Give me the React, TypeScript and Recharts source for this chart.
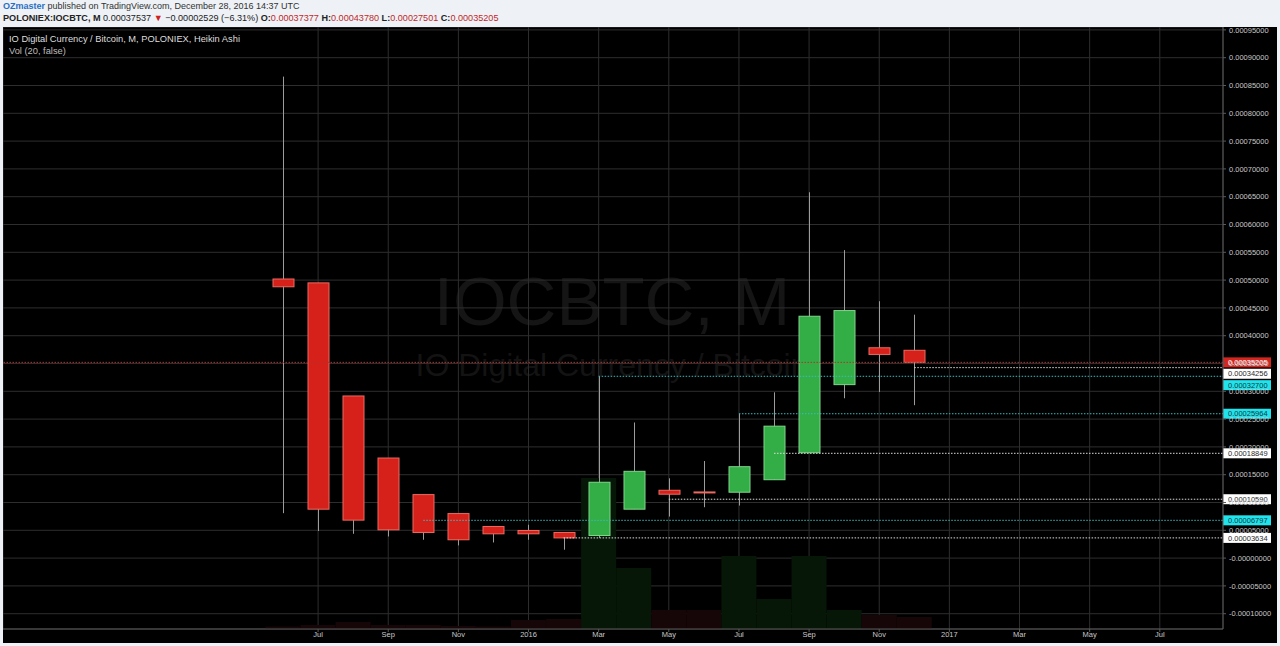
import React from 'react';
import { ComposedChart, Bar, XAxis, YAxis, CartesianGrid, ReferenceLine } from 'recharts';

// ---------- data ----------
const axisMonths = [
  '2014-11', '2014-12', '2015-01', '2015-02', '2015-03', '2015-04', '2015-05', '2015-06',
  '2015-07', '2015-08', '2015-09', '2015-10', '2015-11', '2015-12', '2016-01', '2016-02',
  '2016-03', '2016-04', '2016-05', '2016-06', '2016-07', '2016-08', '2016-09', '2016-10',
  '2016-11', '2016-12', '2017-01', '2017-02', '2017-03', '2017-04', '2017-05', '2017-06',
  '2017-07', '2017-08',
];
const tickMonths = [
  '2015-07', '2015-09', '2015-11', '2016-01', '2016-03', '2016-05', '2016-07',
  '2016-09', '2016-11', '2017-01', '2017-03', '2017-05', '2017-07',
];
const monthNames = ['Jan', 'Feb', 'Mar', 'Apr', 'May', 'Jun', 'Jul', 'Aug', 'Sep', 'Oct', 'Nov', 'Dec'];

const candleMonths = [
  '2015-06', '2015-07', '2015-08', '2015-09', '2015-10', '2015-11', '2015-12',
  '2016-01', '2016-02', '2016-03', '2016-04', '2016-05', '2016-06', '2016-07',
  '2016-08', '2016-09', '2016-10', '2016-11', '2016-12',
];
const opens = [
  0.000502, 0.000495, 0.0002916, 0.00018, 0.0001142, 0.0000801, 0.0000568,
  0.0000497, 0.0000461, 0.0000407, 0.000088, 0.000122, 0.000119, 0.0001185,
  0.000141, 0.0001895, 0.000312, 0.0003783, 0.00037377,
];
const highs = [
  0.000866, 0.000495, 0.0002916, 0.00018, 0.0001142, 0.0000801, 0.0000575,
  0.00006, 0.0000461, 0.000327, 0.0002439, 0.0001435, 0.0001746, 0.00025964,
  0.0002982, 0.000658, 0.000554, 0.000462, 0.0004378,
];
const lows = [
  0.0000808, 0.0000487, 0.0000437, 0.0000389, 0.000033, 0.0000228, 0.0000281,
  0.000033, 0.0000151, 0.0000363, 0.000088, 0.0000747, 0.0000915, 0.0000945,
  0.000141, 0.0001895, 0.0002875, 0.0002988, 0.00027501,
];
const closes = [
  0.000488, 0.000088, 0.0000683, 0.0000509, 0.0000461, 0.000033, 0.0000437,
  0.0000437, 0.00003634, 0.0001364, 0.0001561, 0.0001149, 0.0001182, 0.0001644,
  0.0002373, 0.000435, 0.0004452, 0.0003663, 0.00035205,
];
const volumes = [
  25, 40, 70, 40, 40, 30, 25,
  90, 100, 1510, 610, 190, 190, 730,
  300, 730, 190, 140, 120,
];

const priceTicks = [
  -0.0001, -0.00005, 0, 0.00005, 0.0001, 0.00015, 0.0002, 0.00025, 0.0003, 0.00035,
  0.0004, 0.00045, 0.0005, 0.00055, 0.0006, 0.00065, 0.0007, 0.00075, 0.0008,
  0.00085, 0.0009, 0.00095,
];
const lastPrice = 0.00035205;
const levelValues = [0.00034256, 0.000327, 0.00025964, 0.00018849, 0.0001059, 0.00006797, 0.00003634];
const levelStarts = ['2016-12', '2016-03', '2016-07', '2016-08', '2016-05', '2015-10', '2016-02'];
const levelKinds = ['white', 'cyan', 'cyan', 'white', 'white', 'cyan', 'white'];

// ---------- layout / style ----------
const CHART_W = 1274;
const CHART_H = 616;
const Y_AXIS_W = 54;
const X_AXIS_H = 14;
const PLOT_W = CHART_W - Y_AXIS_W;
const PLOT_H = CHART_H - X_AXIS_H;
const Y_MAX = 0.00095522;
const Y_MIN = -0.00012751;
const VOL_MAX = 6020;

const RED = '#d6211b';
const RED_EDGE = '#ec6a60';
const GREEN = '#33ad46';
const GREEN_EDGE = '#80d68b';
const WICK = '#9c9c9c';
const VOL_RED = '#170607';
const VOL_GREEN = '#061707';
const GRID = '#2e2e2e';
const AXIS = '#5a5a5a';
const LABEL = '#c9c9c9';
const CYAN_LINE = '#3bbcbf';
const CYAN_BADGE = '#21e3ec';
const WHITE_LINE = '#dcdcdc';
const RED_LINE = '#b8302a';
const FONT = '"Liberation Sans", Arial, sans-serif';

const data = axisMonths.map((m) => {
  const i = candleMonths.indexOf(m);
  if (i < 0) return { m };
  return {
    m,
    range: [lows[i], highs[i]],
    o: opens[i],
    h: highs[i],
    l: lows[i],
    c: closes[i],
    vol: volumes[i],
    up: closes[i] >= opens[i],
  };
});

const monthLabel = (m: string) => {
  const [y, mo] = m.split('-');
  return mo === '01' ? y : monthNames[Number(mo) - 1];
};

const priceLabel = (v: number) => (Math.abs(v) < 1e-12 ? '-0.00000000' : v.toFixed(8));

const CandleShape = (props: any) => {
  const { x, y, width, height, payload } = props;
  if (!payload || payload.o == null || !(height > 0)) return null;
  const { o, c, h, l } = payload;
  const k = height / (h - l);
  const py = (v: number) => y + (h - v) * k;
  const cx = Math.round(x + width / 2) + 0.5;
  const up = c >= o;
  const top = py(Math.max(o, c));
  const bot = py(Math.min(o, c));
  const bh = Math.max(1, bot - top);
  return (
    <g>
      <line x1={cx} x2={cx} y1={y} y2={y + height} stroke={WICK} strokeWidth={1} />
      <rect
        x={cx - 10.5}
        y={top}
        width={21}
        height={bh}
        fill={up ? GREEN : RED}
        stroke={up ? GREEN_EDGE : RED_EDGE}
        strokeWidth={1}
      />
    </g>
  );
};

const VolumeShape = (props: any) => {
  const { x, y, width, height, payload } = props;
  if (!payload || payload.vol == null || !(height > 0)) return null;
  return <rect x={x} y={y} width={width} height={height} fill={payload.up ? VOL_GREEN : VOL_RED} />;
};

// badge placement (push overlapping badges down)
const BADGE_H = 11.4;
const pix = (v: number) => ((Y_MAX - v) / (Y_MAX - Y_MIN)) * PLOT_H;
const badgeValues = [lastPrice, ...levelValues];
const badgeKinds = ['red', ...levelKinds];
const badgeOffsets: number[] = (() => {
  const order = badgeValues.map((v, i) => i).sort((a, b) => badgeValues[b] - badgeValues[a]);
  const res: number[] = new Array(badgeValues.length).fill(0);
  let prev = -Infinity;
  order.forEach((i) => {
    const p = pix(badgeValues[i]);
    const placed = Math.max(p, prev + BADGE_H);
    res[i] = placed - p;
    prev = placed;
  });
  return res;
})();

const makeBadge = (idx: number) => (props: any) => {
  const vb = props.viewBox || {};
  const kind = badgeKinds[idx];
  const bg = kind === 'red' ? '#d4251e' : kind === 'cyan' ? CYAN_BADGE : '#ffffff';
  const fg = kind === 'red' ? '#ffffff' : kind === 'cyan' ? '#10393c' : '#2a2a2a';
  const cy = vb.y + badgeOffsets[idx];
  const x0 = PLOT_W;
  return (
    <g>
      <rect x={x0} y={cy - 5} width={48} height={10} fill={bg} />
      <text x={x0 + 5} y={cy} dy="0.35em" fontSize={7.5} fontFamily={FONT} fill={fg}>
        {priceLabel(badgeValues[idx])}
      </text>
    </g>
  );
};

const levelShape = (color: string) => (props: any) => (
  <line
    x1={props.x1}
    y1={props.y1}
    x2={PLOT_W}
    y2={props.y2}
    stroke={color}
    strokeWidth={1}
    strokeDasharray="1.5 1.5"
  />
);

export default function App() {
  const lastMonth = axisMonths[axisMonths.length - 1];
  return (
    <div
      style={{
        position: 'absolute',
        left: 0,
        top: 0,
        width: 1280,
        height: 646,
        background: '#eef1f5',
        overflow: 'hidden',
        fontFamily: FONT,
      }}
    >
      <div style={{ position: 'absolute', left: 3, top: 0, fontSize: 9, lineHeight: '12px', color: '#333', whiteSpace: 'nowrap' }}>
        <span style={{ color: '#2a6fc4', fontWeight: 'bold' }}>OZmaster</span> published on TradingView.com, December 28, 2016 14:37 UTC
      </div>
      <div style={{ position: 'absolute', left: 3, top: 11.5, fontSize: 9.1, lineHeight: '12px', color: '#222', whiteSpace: 'nowrap' }}>
        <span style={{ fontWeight: 'bold' }}>POLONIEX:IOCBTC, M</span> 0.00037537{' '}
        <span style={{ color: '#d0211b' }}>▼</span> −0.00002529 (−6.31%){' '}
        <b>O:</b><span style={{ color: '#c0282a' }}>0.00037377</span>{' '}
        <b>H:</b><span style={{ color: '#c0282a' }}>0.00043780</span>{' '}
        <b>L:</b><span style={{ color: '#c0282a' }}>0.00027501</span>{' '}
        <b>C:</b><span style={{ color: '#c0282a' }}>0.00035205</span>
      </div>

      <div style={{ position: 'absolute', left: 3, top: 27, width: CHART_W, height: CHART_H, background: '#000' }}>
        <div
          style={{
            position: 'absolute', left: 0, top: 235, width: 1218, textAlign: 'center',
            fontSize: 69, lineHeight: '80px', color: '#151515', whiteSpace: 'nowrap',
          }}
        >
          IOCBTC, M
        </div>
        <div
          style={{
            position: 'absolute', left: 0, top: 318, width: 1218, textAlign: 'center',
            fontSize: 32, lineHeight: '40px', color: '#131313', whiteSpace: 'nowrap',
          }}
        >
          IO Digital Currency / Bitcoin
        </div>
        <div style={{ position: 'absolute', left: 0, top: 0 }}>
          <ComposedChart
            width={CHART_W}
            height={CHART_H}
            data={data}
            margin={{ top: 0, right: 0, bottom: 0, left: 0 }}
            barCategoryGap={0}
            barGap={0}
          >
            <CartesianGrid xAxisId="x" yAxisId="p" stroke={GRID} strokeWidth={1} />
            <XAxis
              xAxisId="x"
              dataKey="m"
              ticks={tickMonths}
              interval={0}
              tickFormatter={monthLabel}
              padding={{ left: 17, right: 10.6 }}
              height={X_AXIS_H}
              tickSize={3}
              tickMargin={0}
              stroke={AXIS}
              tick={{ fill: LABEL, fontSize: 7.5, fontFamily: FONT }}
            />
            <XAxis xAxisId="xv" dataKey="m" hide padding={{ left: 17, right: 10.6 }} />
            <YAxis
              yAxisId="p"
              orientation="right"
              width={Y_AXIS_W}
              domain={[Y_MIN, Y_MAX]}
              allowDataOverflow
              ticks={priceTicks}
              interval={0}
              tickFormatter={priceLabel}
              tickSize={3}
              tickMargin={3}
              stroke={AXIS}
              tick={{ fill: LABEL, fontSize: 7.5, fontFamily: FONT }}
            />
            <YAxis yAxisId="v" hide domain={[0, VOL_MAX]} allowDataOverflow />

            <Bar xAxisId="xv" yAxisId="v" dataKey="vol" shape={VolumeShape} isAnimationActive={false} />

            {levelValues.map((v, i) => (
              <ReferenceLine
                key={'lvl' + i}
                xAxisId="x"
                yAxisId="p"
                segment={[{ x: levelStarts[i], y: v }, { x: lastMonth, y: v }]}
                shape={levelShape(levelKinds[i] === 'cyan' ? CYAN_LINE : WHITE_LINE)}
              />
            ))}
            <ReferenceLine
              xAxisId="x"
              yAxisId="p"
              y={lastPrice}
              stroke={RED_LINE}
              strokeDasharray="1.5 1.5"
            />

            <Bar
              xAxisId="x"
              yAxisId="p"
              dataKey="range"
              barSize={21}
              shape={CandleShape}
              isAnimationActive={false}
            />

            {badgeValues.map((v, i) => (
              <ReferenceLine
                key={'badge' + i}
                xAxisId="x"
                yAxisId="p"
                y={v}
                stroke="none"
                label={makeBadge(i)}
              />
            ))}
          </ComposedChart>
        </div>
        <div style={{ position: 'absolute', left: 6, top: 7, fontSize: 9.3, color: '#dedede', whiteSpace: 'nowrap' }}>
          IO Digital Currency / Bitcoin, M, POLONIEX, Heikin Ashi
        </div>
        <div style={{ position: 'absolute', left: 6, top: 19, fontSize: 9.3, color: '#bdbdbd', whiteSpace: 'nowrap' }}>
          Vol (20, false)
        </div>
      </div>
    </div>
  );
}
